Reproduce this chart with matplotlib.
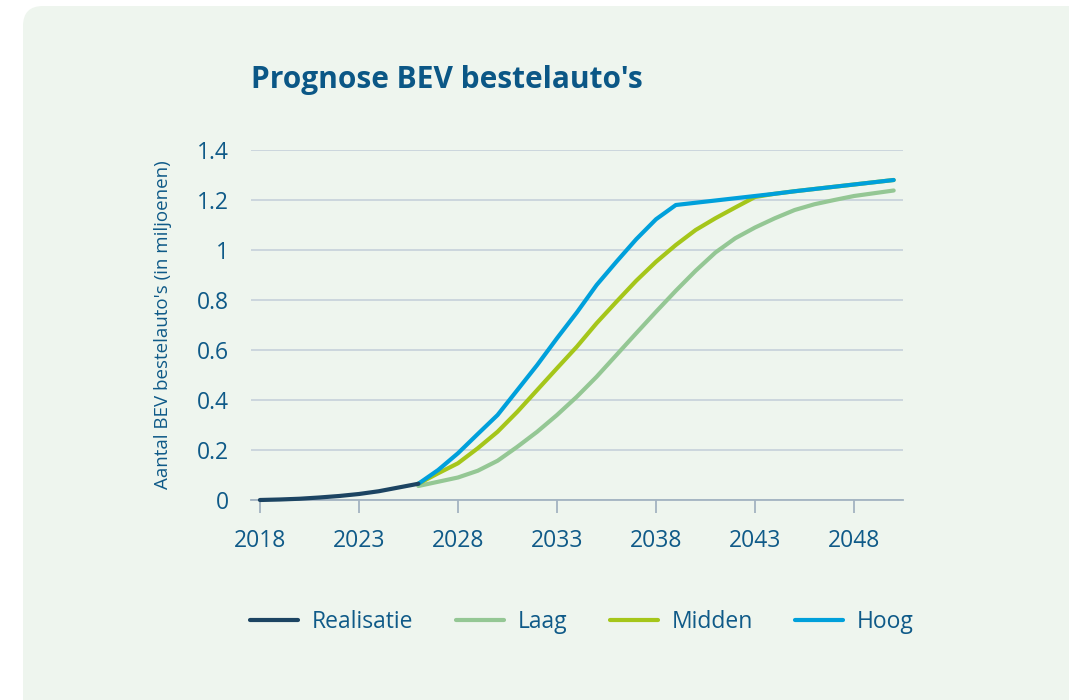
import matplotlib.pyplot as plt
from matplotlib.patches import FancyBboxPatch
from matplotlib.transforms import IdentityTransform

plt.rcParams['font.family'] = ['Open Sans', 'DejaVu Sans']

# Data (in miljoenen)
real_years = [2018, 2019, 2020, 2021, 2022, 2023, 2024, 2025, 2026]
realisatie = [0.0, 0.002, 0.005, 0.01, 0.016, 0.024, 0.035, 0.05, 0.065]

scen_years = list(range(2026, 2051))
laag = [0.056, 0.073, 0.09, 0.117, 0.157, 0.213, 0.273, 0.34, 0.413, 0.493,
        0.58, 0.667, 0.753, 0.837, 0.917, 0.99, 1.047, 1.09, 1.127, 1.16,
        1.183, 1.2, 1.216, 1.227, 1.238]
midden = [0.065, 0.107, 0.147, 0.207, 0.273, 0.353, 0.44, 0.527, 0.613, 0.707,
          0.793, 0.877, 0.953, 1.02, 1.08, 1.127, 1.17, 1.212, 1.225, 1.235,
          1.244, 1.253, 1.262, 1.271, 1.28]
hoog = [0.065, 0.12, 0.187, 0.264, 0.34, 0.44, 0.54, 0.647, 0.75, 0.86,
        0.953, 1.043, 1.123, 1.18, 1.189, 1.198, 1.207, 1.216, 1.225, 1.235,
        1.244, 1.253, 1.262, 1.271, 1.28]

text_col = '#0f5a88'
axis_col = '#a3b3c1'
grid_col = '#c9d3dc'

fig = plt.figure(figsize=(10.69, 7), dpi=100)
fig.patch.set_facecolor('white')

# rounded light green panel
panel = FancyBboxPatch((23, -40), 1100, 734, boxstyle='round,pad=0,rounding_size=20',
                       transform=IdentityTransform(), facecolor='#eef5ee',
                       edgecolor='none', zorder=-10)
fig.patches.append(panel)

ax = fig.add_axes([251 / 1069, 1 - 500 / 700, (903 - 251) / 1069, 350 / 700])
ax.set_facecolor('none')

ax.plot(real_years, realisatie, color='#1c4462', lw=3, label='Realisatie',
        solid_capstyle='round', clip_on=False, zorder=3)
ax.plot(scen_years, laag, color='#94c794', lw=3, label='Laag',
        solid_capstyle='round', clip_on=False, zorder=2)
ax.plot(scen_years, midden, color='#a5c61a', lw=3, label='Midden',
        solid_capstyle='round', clip_on=False, zorder=2.5)
ax.plot(scen_years, hoog, color='#00a0db', lw=3, label='Hoog',
        solid_capstyle='round', clip_on=False, zorder=2.7)

ax.set_xlim(2017.55, 2050.47)
ax.set_ylim(0, 1.4)
ax.set_xticks(range(2018, 2049, 5))
ax.set_yticks([0, 0.2, 0.4, 0.6, 0.8, 1.0, 1.2, 1.4])
ax.set_yticklabels(['0', '0.2', '0.4', '0.6', '0.8', '1', '1.2', '1.4'])

ax.grid(axis='y', color=grid_col, lw=1.3)
ax.set_axisbelow(True)
for s in ['top', 'right', 'left']:
    ax.spines[s].set_visible(False)
ax.spines['bottom'].set_color(axis_col)
ax.spines['bottom'].set_linewidth(1.3)

ax.tick_params(axis='x', length=9, width=1.3, color=axis_col, labelcolor=text_col,
               labelsize=16.5, pad=12)
ax.tick_params(axis='y', length=0, labelsize=16.5, labelcolor=text_col, pad=16)

ax.set_ylabel("Aantal BEV bestelauto's (in miljoenen)", fontsize=13.5,
              color=text_col, labelpad=18)

fig.text(251 / 1069, 1 - 80 / 700, "Prognose BEV bestelauto's", fontsize=21.5,
         fontweight='bold', color='#0b5786', va='center', ha='left')

fig.legend(loc='center', bbox_to_anchor=(582 / 1069, 1 - 622 / 700), ncol=4,
           frameon=False, fontsize=16.5, handlelength=2.1, columnspacing=1.85,
           handletextpad=0.6, labelcolor=text_col)

fig.savefig('out.png', dpi=100, facecolor='white')
